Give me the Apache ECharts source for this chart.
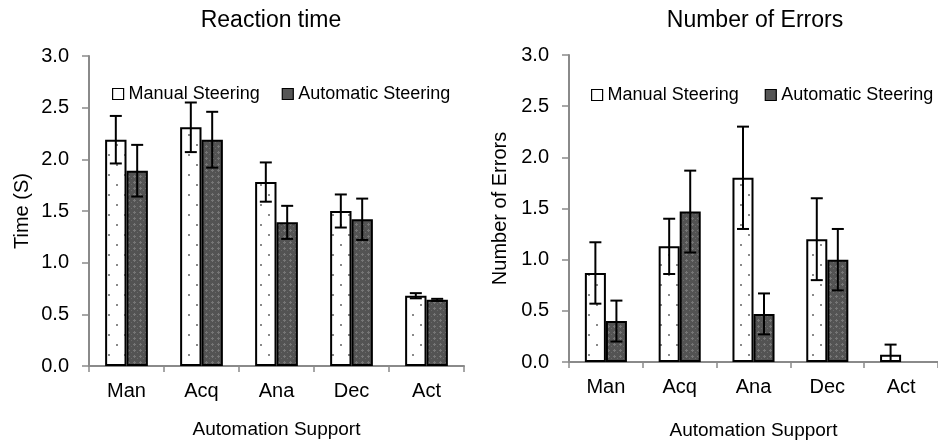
<!DOCTYPE html>
<html><head><meta charset="utf-8">
<script src="https://cdn.jsdelivr.net/npm/echarts@6/dist/echarts.min.js"></script>
<style>html,body{margin:0;padding:0;background:#fff}#c{width:938px;height:445px}</style>
</head><body><div id="c"></div>
<script>
const categories = ['Man', 'Acq', 'Ana', 'Dec', 'Act'];
const seriesNames = ['Manual Steering', 'Automatic Steering'];
const yMin = 0, yMax = 3, yInterval = 0.5;

const manualTime = [2.19, 2.31, 1.78, 1.50, 0.68];
const manualTimeErr = [0.23, 0.24, 0.19, 0.16, 0.025];
const autoTime = [1.89, 2.19, 1.39, 1.42, 0.64];
const autoTimeErr = [0.25, 0.27, 0.16, 0.20, 0.01];

const manualErrors = [0.87, 1.13, 1.80, 1.20, 0.07];
const manualErrorsErr = [0.30, 0.27, 0.50, 0.40, 0.10];
const autoErrors = [0.40, 1.47, 0.47, 1.00, 0];
const autoErrorsErr = [0.20, 0.40, 0.20, 0.30, null];

const FONT = 'Liberation Sans, Arial, sans-serif';
const GAP = 0.43;

function dotPattern() {
  const c = document.createElement('canvas'); c.width = 16; c.height = 20;
  const g = c.getContext('2d');
  g.fillStyle = '#ffffff'; g.fillRect(0, 0, 16, 20);
  g.fillStyle = '#8a8a8a'; g.fillRect(4, 4, 2, 2); g.fillRect(12, 14, 2, 2);
  return c;
}
function hatchPattern() {
  const c = document.createElement('canvas'); c.width = 6; c.height = 6;
  const g = c.getContext('2d');
  g.fillStyle = '#535353'; g.fillRect(0, 0, 6, 6);
  g.fillStyle = '#767676'; g.fillRect(2, 1, 1, 3); g.fillRect(1, 2, 3, 1);
  g.fillStyle = '#6a6a6a'; g.fillRect(5, 4, 1, 1);
  return c;
}
const manualFill = { image: dotPattern(), repeat: 'repeat' };
const autoFill = { image: hatchPattern(), repeat: 'repeat' };

function errRender(sign) {
  return function (params, api) {
    const e = api.value(2);
    if (e == null || isNaN(e)) return;
    const i = api.value(0), v = api.value(1);
    const band = api.size([1, 0])[0];
    const bw = band * (1 - GAP) / 2;
    const x = api.coord([i, v])[0] + sign * bw / 2;
    const yt = api.coord([i, v + e])[1];
    const yb = api.coord([i, v - e])[1];
    const cw = 6;
    const st = { stroke: '#000', lineWidth: 2 };
    return {
      type: 'group',
      children: [
        { type: 'line', shape: { x1: x, y1: yt, x2: x, y2: yb }, style: st },
        { type: 'line', shape: { x1: x - cw, y1: yt, x2: x + cw, y2: yt }, style: st },
        { type: 'line', shape: { x1: x - cw, y1: yb, x2: x + cw, y2: yb }, style: st }
      ]
    };
  };
}
function errData(vals, errs) { return vals.map((v, i) => [i, v, errs[i]]); }

const axisGray = '#8a8a8a';
function xAxis(gi, gap) {
  return {
    type: 'category', gridIndex: gi, data: categories,
    name: 'Automation Support', nameLocation: 'middle', nameGap: gap,
    nameTextStyle: { fontSize: 19, fontFamily: FONT, color: '#000' },
    axisLine: { lineStyle: { color: axisGray, width: 2 } },
    axisTick: { show: true, length: 6, interval: 0, lineStyle: { color: axisGray, width: 1.5 } },
    axisLabel: { fontSize: 20, fontFamily: FONT, color: '#000', margin: 15, interval: 0 },
    splitLine: { show: false }
  };
}
function yAxis(gi, name, gap) {
  return {
    type: 'value', gridIndex: gi, min: yMin, max: yMax, interval: yInterval,
    name: name, nameLocation: 'middle', nameGap: gap,
    nameTextStyle: { fontSize: 20, fontFamily: FONT, color: '#000' },
    axisLine: { show: true, lineStyle: { color: axisGray, width: 2 } },
    axisTick: { show: true, length: 7, lineStyle: { color: axisGray, width: 1.5 } },
    axisLabel: { fontSize: 20, fontFamily: FONT, color: '#000', margin: 20, formatter: v => v.toFixed(1) },
    splitLine: { show: false }
  };
}
function legend(left, gap, top) {
  return {
    left: left, top: top, width: 400, orient: 'horizontal',
    itemWidth: 11, itemHeight: 11, itemGap: gap,
    icon: 'rect', selectedMode: false,
    textStyle: { fontSize: 18, fontFamily: FONT, color: '#000' },
    data: [
      { name: seriesNames[0], itemStyle: { color: '#fff', borderColor: '#000', borderWidth: 1.2 } },
      { name: seriesNames[1], itemStyle: { color: '#555', borderColor: '#000', borderWidth: 1.2 } }
    ]
  };
}
function bar(name, gi, data, fill) {
  return {
    type: 'bar', name: name, xAxisIndex: gi, yAxisIndex: gi,
    data: data.map(v => v === 0 ? { value: v, itemStyle: { borderWidth: 0 } } : v),
    barGap: '0%', barCategoryGap: (GAP * 100) + '%',
    itemStyle: { color: fill, borderColor: '#000', borderWidth: 2 },
    emphasis: { disabled: true }, animation: false
  };
}
function err(gi, vals, errs, sign) {
  return {
    type: 'custom', xAxisIndex: gi, yAxisIndex: gi, clip: true,
    data: errData(vals, errs), renderItem: errRender(sign),
    encode: { x: 0, y: 1 }, z: 5, animation: false, silent: true
  };
}

const chart = echarts.init(document.getElementById('c'), null, { renderer: 'canvas' });
chart.setOption({
  animation: false,
  textStyle: { fontFamily: FONT },
  title: [
    { text: 'Reaction time', left: 266, top: 4, textAlign: 'center',
      textStyle: { fontSize: 23, fontWeight: 'normal', fontFamily: FONT, color: '#000' } },
    { text: 'Number of Errors', left: 750, top: 4, textAlign: 'center',
      textStyle: { fontSize: 23, fontWeight: 'normal', fontFamily: FONT, color: '#000' } }
  ],
  legend: [legend(107, 22, 80), legend(586, 26, 81)],
  grid: [
    { left: 89, top: 56, width: 375, height: 310 },
    { left: 569, top: 55, width: 375, height: 308 }
  ],
  xAxis: [xAxis(0, 54), xAxis(1, 59)],
  yAxis: [yAxis(0, 'Time (S)', 57), yAxis(1, 'Number of Errors', 59)],
  series: [
    bar(seriesNames[0], 0, manualTime, manualFill),
    bar(seriesNames[1], 0, autoTime, autoFill),
    bar(seriesNames[0], 1, manualErrors, manualFill),
    bar(seriesNames[1], 1, autoErrors, autoFill),
    err(0, manualTime, manualTimeErr, -1),
    err(0, autoTime, autoTimeErr, 1),
    err(1, manualErrors, manualErrorsErr, -1),
    err(1, autoErrors, autoErrorsErr, 1)
  ]
});
</script></body></html>
